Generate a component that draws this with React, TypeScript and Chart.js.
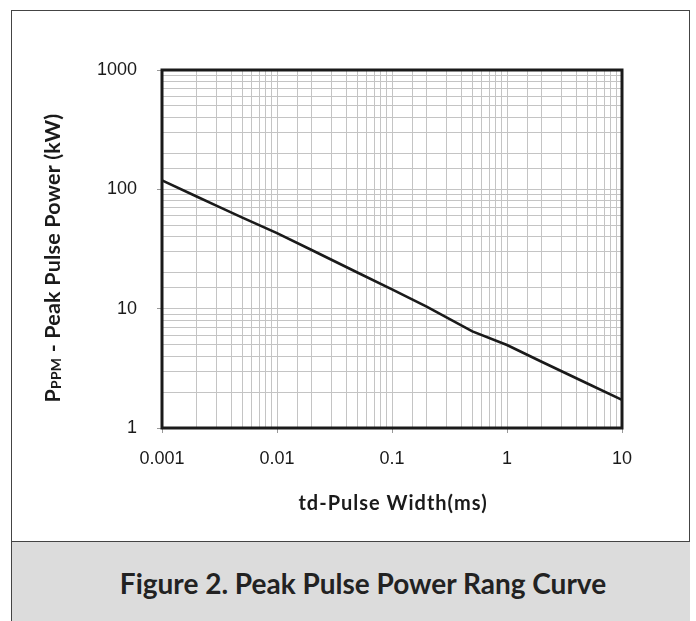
import React, { useEffect, useRef } from "react";
import { Chart, registerables } from "chart.js";

Chart.register(...registerables);

const pulseWidthMs = [0.001, 0.002, 0.003, 0.005, 0.01, 0.02, 0.05, 0.1, 0.2, 0.5, 1, 2, 5, 10];
const peakPowerKW = [119, 87, 72.6, 58, 43, 31, 20.1, 14.5, 10.4, 6.45, 4.96, 3.59, 2.36, 1.72];
const xTickLabels = ["0.001", "0.01", "0.1", "1", "10"];
const yTickLabels = ["1", "10", "100", "1000"];
const xTitle = "td-Pulse Width(ms)";
const yTitleMain = "P";
const yTitleSub = "PPM";
const yTitleRest = " - Peak Pulse Power (kW)";
const caption = "Figure 2. Peak Pulse Power Rang Curve";

const findLabel = (labels: string[], v: number) =>
  labels.find((l) => Math.abs(Number(l) / v - 1) < 1e-6);

const isDecade = (v: number) => Math.abs(Math.log10(v) - Math.round(Math.log10(v))) < 1e-6;

const framePlugin = {
  id: "frameAndTitles",
  afterDatasetsDraw(chart: any) {
    const { ctx, chartArea: a } = chart;
    ctx.save();
    ctx.strokeStyle = "#1a1a1a";
    ctx.lineWidth = 3;
    ctx.strokeRect(a.left, a.top, a.right - a.left, a.bottom - a.top);
    ctx.restore();
  },
  afterDraw(chart: any) {
    const { ctx } = chart;
    ctx.save();
    ctx.fillStyle = "#1a1a1a";
    // x title
    ctx.font = "bold 20px Lato";
    try {
      ctx.letterSpacing = "1px";
    } catch (e) {}
    ctx.textAlign = "center";
    ctx.textBaseline = "alphabetic";
    ctx.fillText(xTitle, 393, 510);
    // y title (rotated)
    try {
      ctx.letterSpacing = "0.2px";
    } catch (e) {}
    ctx.translate(52, 258);
    ctx.rotate(-Math.PI / 2);
    const mainFont = "bold 21.5px Lato";
    const subFont = "bold 14px Lato";
    ctx.font = mainFont;
    const w1 = ctx.measureText(yTitleMain).width;
    const w3 = ctx.measureText(yTitleRest).width;
    ctx.font = subFont;
    const w2 = ctx.measureText(yTitleSub).width;
    const total = w1 + w2 + w3;
    let x = -total / 2;
    const base = 8;
    ctx.textAlign = "left";
    ctx.font = mainFont;
    ctx.fillText(yTitleMain, x, base);
    x += w1;
    ctx.font = subFont;
    ctx.fillText(yTitleSub, x, base + 1);
    x += w2;
    ctx.font = mainFont;
    ctx.fillText(yTitleRest, x, base);
    ctx.restore();
  },
};

export default function App() {
  const canvasRef = useRef<HTMLCanvasElement | null>(null);

  useEffect(() => {
    if (!canvasRef.current) return;
    const chart = new Chart(canvasRef.current, {
      type: "line",
      data: {
        datasets: [
          {
            data: pulseWidthMs.map((x, i) => ({ x, y: peakPowerKW[i] })),
            borderColor: "#1a1a1a",
            borderWidth: 2.6,
            pointRadius: 0,
            tension: 0,
            fill: false,
          },
        ],
      },
      options: {
        animation: false,
        responsive: false,
        events: [],
        layout: { padding: { left: 0, top: 70, right: 74, bottom: 72 } },
        plugins: { legend: { display: false }, tooltip: { enabled: false } },
        scales: {
          x: {
            type: "logarithmic",
            min: 0.001,
            max: 10,
            afterFit(scale: any) {
              scale.height = 40;
            },
            grid: {
              color: "#c4c4c4",
              lineWidth: 1,
              tickLength: 5,
              tickColor: (c: any) => (c.tick && isDecade(c.tick.value) ? "#999" : "rgba(0,0,0,0)"),
            },
            border: { display: false },
            ticks: {
              autoSkip: false,
              maxRotation: 0,
              padding: 15,
              color: "#1a1a1a",
              font: { family: "Liberation Sans", size: 18 },
              callback: (v: any) => findLabel(xTickLabels, Number(v)) ?? "",
            },
          },
          y: {
            type: "logarithmic",
            min: 1,
            max: 1000,
            afterFit(scale: any) {
              scale.width = 162;
            },
            grid: {
              color: "#c4c4c4",
              lineWidth: 1,
              tickLength: 5,
              tickColor: (c: any) => (c.tick && isDecade(c.tick.value) ? "#999" : "rgba(0,0,0,0)"),
            },
            border: { display: false },
            ticks: {
              autoSkip: false,
              padding: 20,
              color: "#1a1a1a",
              font: { family: "Liberation Sans", size: 18 },
              callback: (v: any) => findLabel(yTickLabels, Number(v)) ?? "",
            },
          },
        },
      },
      plugins: [framePlugin],
    });
    return () => chart.destroy();
  }, []);

  return (
    <div style={{ position: "fixed", left: 0, top: 0, width: 696, height: 621, background: "#fff", overflow: "hidden" }}>
      <div
        style={{
          position: "absolute",
          left: 11,
          top: 10,
          width: 679,
          height: 640,
          border: "1px solid #444",
          boxSizing: "border-box",
        }}
      />
      <div
        style={{
          position: "absolute",
          left: 12,
          top: 541,
          width: 678,
          height: 90,
          borderTop: "1px solid #444",
          background: "#dcdcdc",
          boxSizing: "border-box",
        }}
      >
        <div
          style={{
            position: "absolute",
            left: 0,
            top: 0,
            width: 678,
            paddingLeft: 24,
            boxSizing: "border-box",
            textAlign: "center",
            lineHeight: "82px",
            fontFamily: "Lato",
            fontWeight: 700,
            fontSize: 28,
            color: "#222",
            whiteSpace: "nowrap",
          }}
        >
          {caption}
        </div>
      </div>
      <canvas
        ref={canvasRef}
        width={696}
        height={540}
        style={{ position: "absolute", left: 0, top: 0, width: 696, height: 540 }}
      />
    </div>
  );
}
